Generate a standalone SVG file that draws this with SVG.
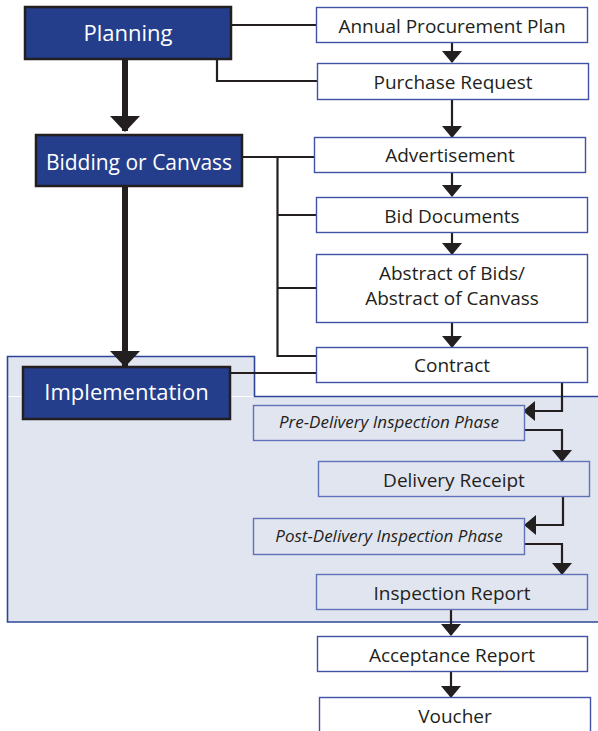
<svg xmlns="http://www.w3.org/2000/svg" width="598" height="731" viewBox="0 0 598 731">
  <style>
    .stage rect { fill: #243e8c; stroke: #231f20; stroke-width: 2.5; }
    .stage text { fill: #ffffff; font-family: "Open Sans", "Liberation Sans", sans-serif; font-size: 22px; text-anchor: middle; }
    .stage text.narrow { font-size: 21px; }
    .doc rect { fill: #ffffff; stroke: #3f52a5; stroke-width: 1.4; }
    .doc.inner rect { fill: #e1e5f0; stroke: #5f72b8; }
    .doc text { fill: #231f20; font-family: "Open Sans", "Liberation Sans", sans-serif; font-size: 19px; text-anchor: middle; }
    .phase rect { fill: #e1e5f0; stroke: #5f72b8; stroke-width: 1.4; }
    .phase text { fill: #231f20; font-family: "Open Sans", "Liberation Sans", sans-serif; font-size: 17px; font-style: italic; text-anchor: middle; }
    .thin { fill: none; stroke: #231f20; stroke-width: 2.2; }
    .thick { fill: none; stroke: #231f20; stroke-width: 6; }
  </style>
  <defs>
    <marker id="arr" viewBox="0 0 12 20" refX="11" refY="10" markerWidth="12" markerHeight="20" markerUnits="userSpaceOnUse" orient="auto">
      <path d="M0,0 L12,10 L0,20 Z" fill="#231f20"/>
    </marker>
    <marker id="bigArr" viewBox="0 0 16 30" refX="15" refY="15" markerWidth="16" markerHeight="30" markerUnits="userSpaceOnUse" orient="auto">
      <path d="M0,0 L16,15 L0,30 Z" fill="#231f20"/>
    </marker>
  </defs>

  <!-- implementation zone background -->
  <g id="implementation-zone">
    <path d="M7.5,356.5 H254.5 V396.5 H600 V622 H7.5 Z" fill="#e1e5f0" stroke="#2e4597" stroke-width="1.6"/>
    <line x1="8.5" y1="396.5" x2="253.5" y2="396.5" stroke="#ffffff" stroke-width="1"/>
  </g>

  <!-- connectors -->
  <g id="connectors">
    <path class="thin" d="M231,25 H316"/>
    <path class="thin" d="M217,59 V81 H317"/>
    <path class="thin" d="M230,157 H314"/>
    <path class="thin" d="M277.5,157 V356 H316"/>
    <path class="thin" d="M277.5,215 H316"/>
    <path class="thin" d="M277.5,288 H316"/>
    <path class="thin" d="M230,373 H316"/>
    <path class="thick" d="M125,59 V131" marker-end="url(#bigArr)"/>
    <path class="thick" d="M125,186 V366" marker-end="url(#bigArr)"/>
    <path class="thin" d="M452,42 V62" marker-end="url(#arr)"/>
    <path class="thin" d="M452,99 V137" marker-end="url(#arr)"/>
    <path class="thin" d="M452,172 V196" marker-end="url(#arr)"/>
    <path class="thin" d="M452,232 V254" marker-end="url(#arr)"/>
    <path class="thin" d="M452,322 V347" marker-end="url(#arr)"/>
    <path class="thin" d="M562,382 V411 H524" marker-end="url(#arr)"/>
    <path class="thin" d="M524,430 H562 V461" marker-end="url(#arr)"/>
    <path class="thin" d="M563,496 V525 H525" marker-end="url(#arr)"/>
    <path class="thin" d="M524,544 H562 V574" marker-end="url(#arr)"/>
    <path class="thin" d="M451,609 V635" marker-end="url(#arr)"/>
    <path class="thin" d="M451,671 V697" marker-end="url(#arr)"/>
  </g>

  <!-- stages -->
  <g id="planning" class="stage">
    <rect x="25" y="7" width="206" height="52"/>
    <text x="128" y="41">Planning</text>
  </g>
  <g id="bidding" class="stage">
    <rect x="36" y="135" width="206" height="51"/>
    <text class="narrow" x="139" y="170">Bidding or Canvass</text>
  </g>
  <g id="implementation" class="stage">
    <rect x="23" y="367" width="207" height="52"/>
    <text x="126.5" y="400">Implementation</text>
  </g>

  <!-- documents -->
  <g id="annual-procurement-plan" class="doc">
    <rect x="316.5" y="7.5" width="271" height="35"/>
    <text x="452" y="33">Annual Procurement Plan</text>
  </g>
  <g id="purchase-request" class="doc">
    <rect x="317.5" y="63.5" width="271" height="36"/>
    <text x="453" y="89">Purchase Request</text>
  </g>
  <g id="advertisement" class="doc">
    <rect x="314.5" y="137.5" width="271" height="35"/>
    <text x="450" y="162">Advertisement</text>
  </g>
  <g id="bid-documents" class="doc">
    <rect x="316.5" y="197.5" width="271" height="35"/>
    <text x="452" y="223">Bid Documents</text>
  </g>
  <g id="abstract" class="doc">
    <rect x="316.5" y="254.5" width="271" height="68"/>
    <text x="452" y="280">Abstract of Bids/</text>
    <text x="452" y="305">Abstract of Canvass</text>
  </g>
  <g id="contract" class="doc">
    <rect x="316.5" y="347.5" width="271" height="35"/>
    <text x="452" y="372">Contract</text>
  </g>
  <g id="pre-delivery" class="phase">
    <rect x="253.5" y="405.5" width="271" height="35"/>
    <text x="389" y="428">Pre-Delivery Inspection Phase</text>
  </g>
  <g id="delivery-receipt" class="doc inner">
    <rect x="318.5" y="461.5" width="271" height="35"/>
    <text x="454" y="487">Delivery Receipt</text>
  </g>
  <g id="post-delivery" class="phase">
    <rect x="253.5" y="518.5" width="271" height="36"/>
    <text x="389" y="542">Post-Delivery Inspection Phase</text>
  </g>
  <g id="inspection-report" class="doc inner">
    <rect x="316.5" y="574.5" width="271" height="35"/>
    <text x="452" y="600">Inspection Report</text>
  </g>
  <g id="acceptance-report" class="doc">
    <rect x="317.5" y="636.5" width="270" height="35"/>
    <text x="452" y="662">Acceptance Report</text>
  </g>
  <g id="voucher" class="doc">
    <rect x="319.5" y="697.5" width="271" height="40"/>
    <text x="455" y="723">Voucher</text>
  </g>
</svg>
